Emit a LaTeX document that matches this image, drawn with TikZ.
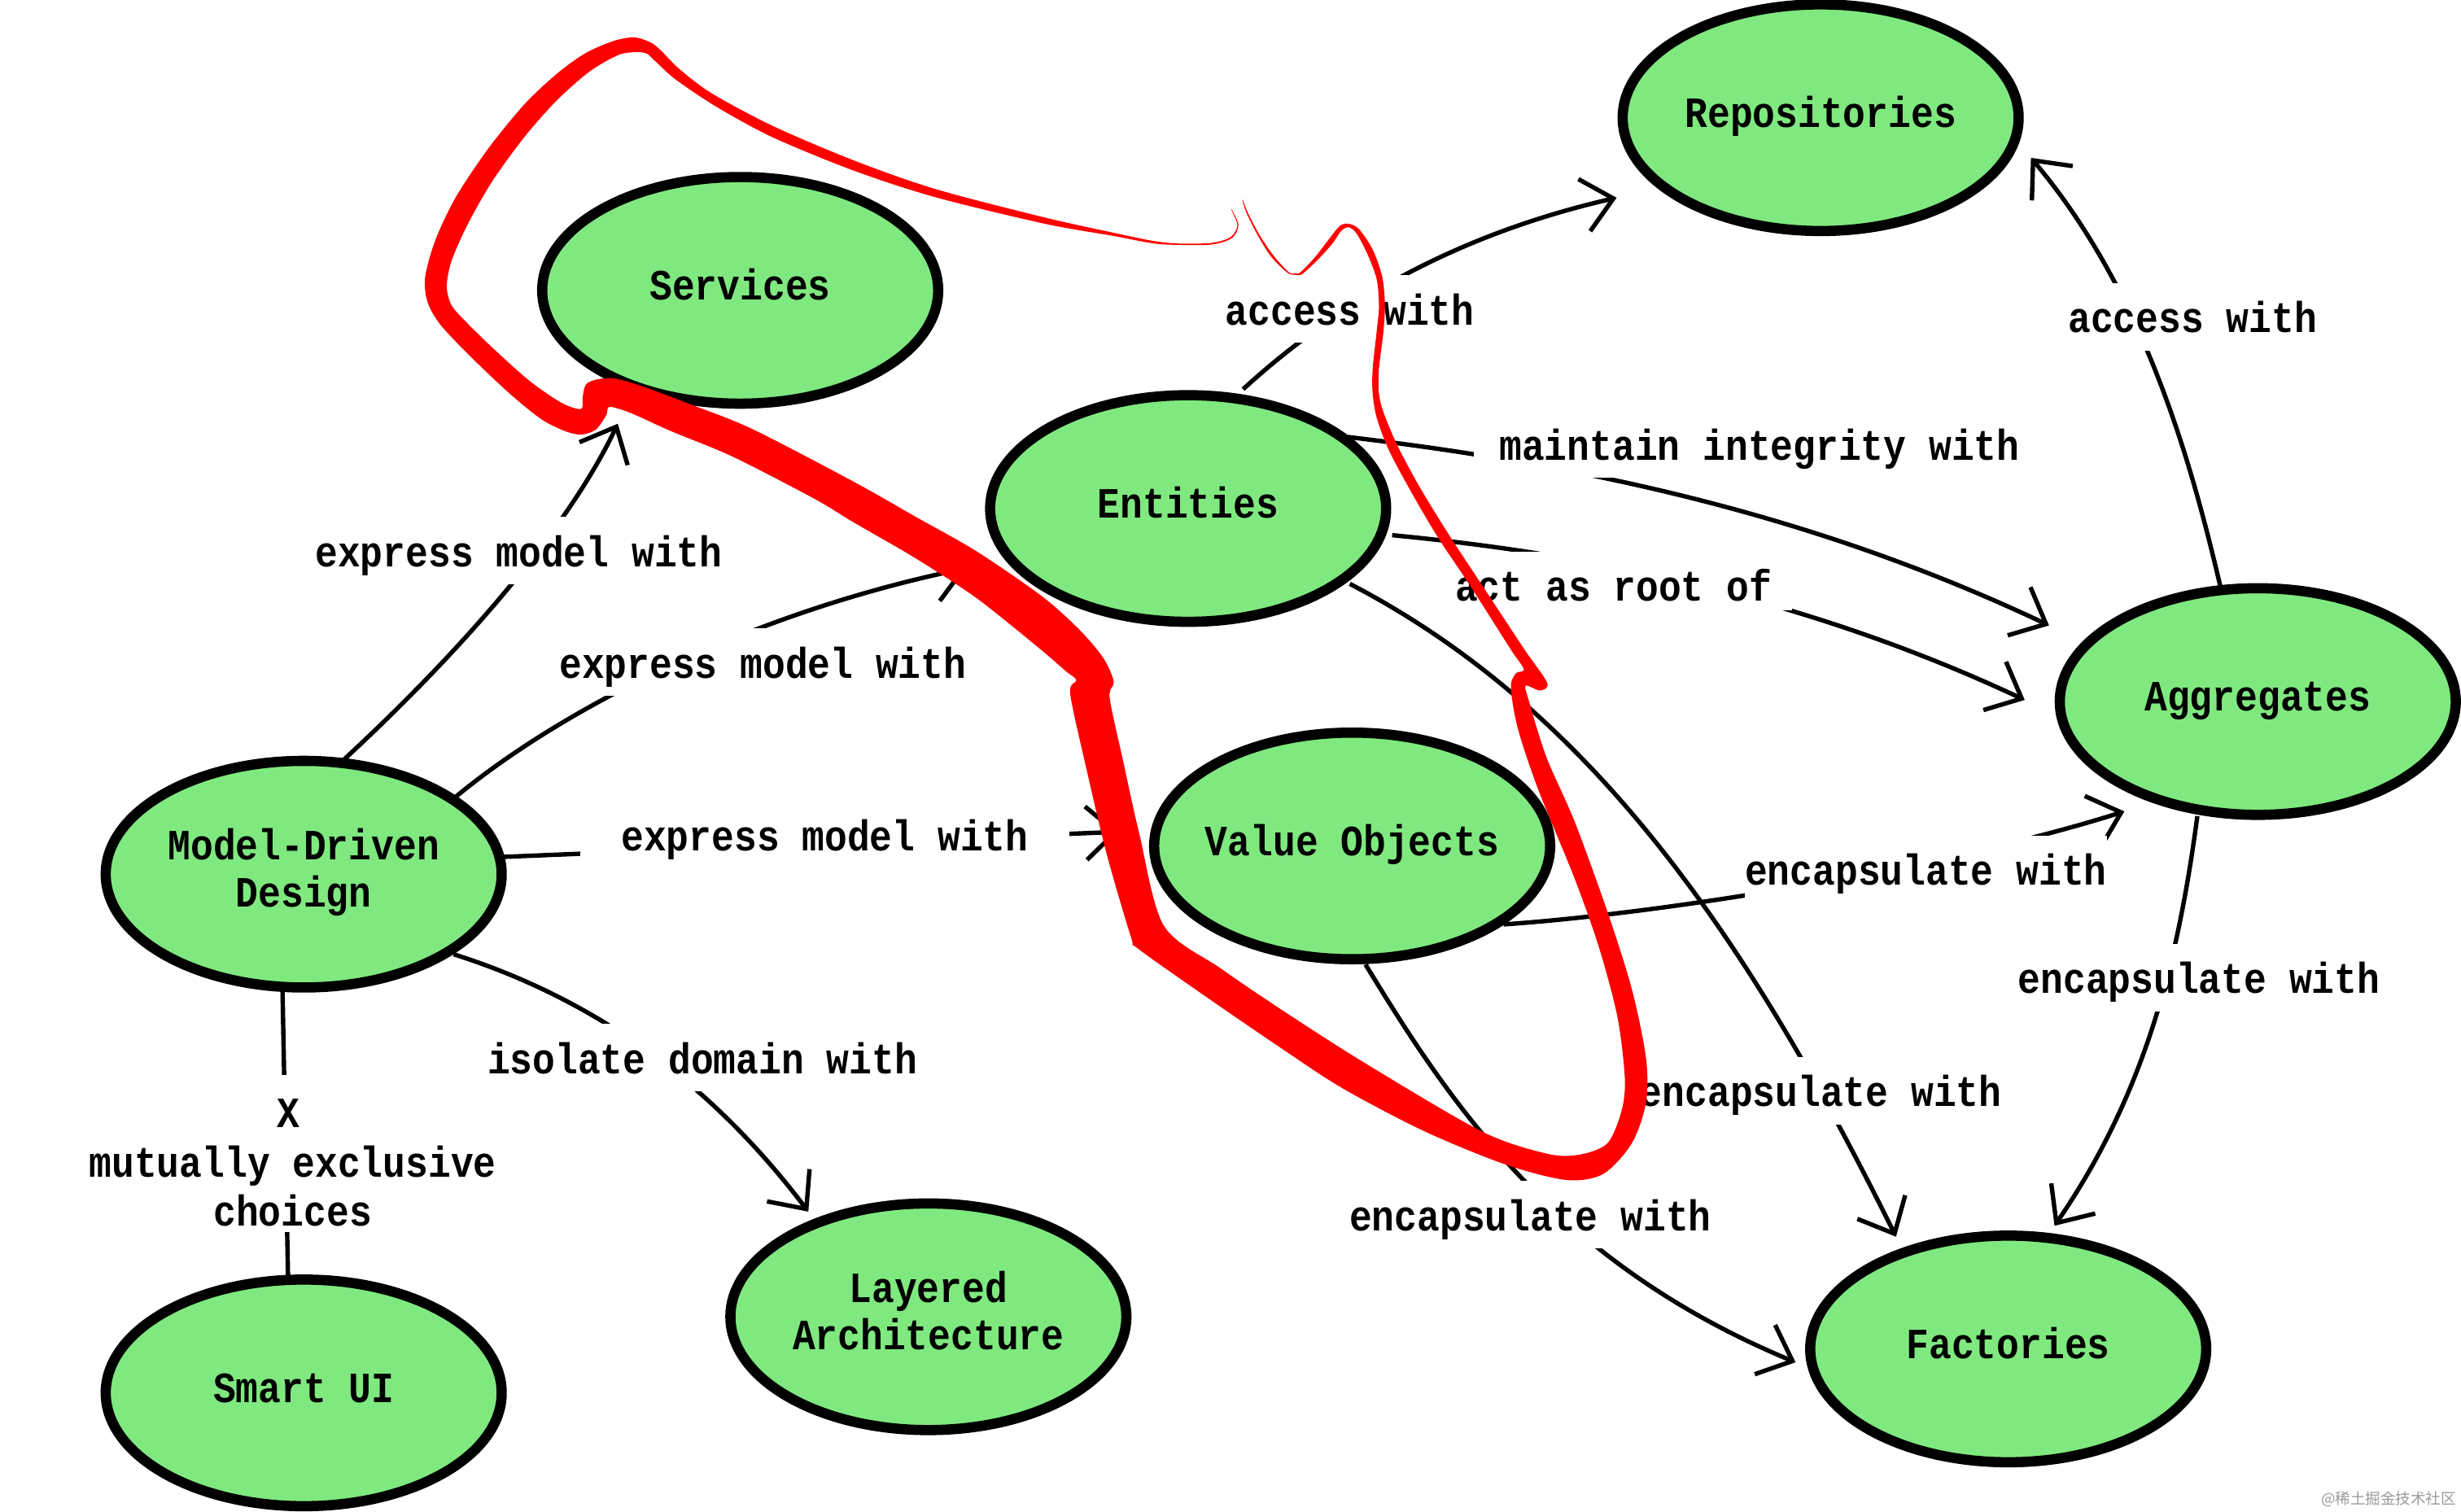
\documentclass[tikz,border=0pt]{standalone}
\usepackage{fontspec}
\usetikzlibrary{arrows.meta,shapes.geometric}
\setmonofont[FakeStretch=.873]{Liberation Mono}
\newfontfamily\cjkfont{Noto Sans CJK SC}
\definecolor{nodegreen}{HTML}{7FE97F}
\pgfdeclarelayer{connlayer}
\pgfdeclarelayer{redlayer}
\pgfsetlayers{connlayer,main,redlayer}
\newcommand{\lowstrut}{\rule[-8pt]{0pt}{8pt}}
\tikzset{
  x=1pt,y=-1pt,
  diagfont/.style={font=\ttfamily\bfseries\fontsize{27.5}{30}\selectfont},
  topic/.style={ellipse,draw=black,line width=6.5pt,fill=nodegreen,minimum width=252.3pt,minimum height=144.4pt,inner ysep=0pt,inner xsep=-10pt,diagfont,align=center},
  onetopic/.style={topic,text height=15pt,text depth=3pt},
  lab/.style={fill=white,inner ysep=0pt,inner xsep=#1,anchor=base,text height=31.5pt,text depth=11.5pt,diagfont},
  lab/.default=26pt,
  conn/.style={line width=2.8pt,draw=black},
  arr/.style={conn,-{Straight Barb[length=19pt,width=34pt]}},
  redstroke/.style={fill=red,draw=none}
}
\begin{document}
\begin{tikzpicture}
\useasboundingbox (0,0) rectangle (1568,963);
\begin{pgfonlayer}{connlayer}
\fill[white] (0,0) rectangle (1568,963);
\end{pgfonlayer}
% labels
\node[lab] (l1) at (330.5,361) {express model with};
\node[lab] (l2) at (486,432) {express model with};
\node[lab] (l3) at (525.5,542) {express model with};
\node[lab] (l4) at (447.5,684) {isolate domain with};
\node[fill=white,inner xsep=26pt,inner ysep=0pt,minimum height=100pt,align=center,diagfont] (l5) at (186.5,735) {\rule{0pt}{30pt}X\kern 6pt\\[1.5pt]mutually exclusive\\[1.5pt]choices};
\node[lab] (l6) at (860,207) {access with};
\node[lab=16.5pt] (l7) at (1121,293) {maintain integrity with};
\node[lab=13pt,text depth=6pt] (l8) at (1028,383) {act as root of};
\node[lab] (l9) at (1160,705) {encapsulate with};
\node[lab=0pt] (l10) at (1227,564) {encapsulate with};
\node[lab] (l11) at (975,784) {encapsulate with};
\node[lab] (l12) at (1397,212) {access with};
\node[lab] (l13) at (1401,633) {encapsulate with};
% topics
\node[onetopic] (rep) at (1160,75) {Repositories};
\node[onetopic] (svc) at (471.6,185) {Services};
\node[onetopic] (ent) at (757,324) {Entities};
\node[onetopic] (agg) at (1438.5,447) {Aggregates};
\node[onetopic] (val) at (861.5,539) {Value Objects};
\node[topic] (mdd) at (193.5,557) {Model-Driven\\Design\lowstrut};
\node[topic] (lay) at (591.5,839) {Layered\\Architecture\lowstrut};
\node[onetopic] (sui) at (193.5,887.5) {Smart UI};
\node[onetopic] (fac) at (1279.5,859.5) {Factories};
\node[font=\cjkfont\fontsize{9.6}{11}\selectfont,text=black!40,anchor=east,inner sep=0pt] (mark) at (1565,955) {@稀土掘金技术社区};
% connectors
\begin{pgfonlayer}{connlayer}
\draw[arr] ([shift={(24.5,-72)}]mdd.center) .. controls (280,428) and (358,345) .. ([shift={(-78,85)}]svc.center);
\draw[arr] ([shift={(96.5,-49)}]mdd.center) .. controls (360,450) and (480,390) .. ([shift={(-141,38)}]ent.center);
\draw[arr] ([shift={(126.5,-11)}]mdd.center) -- ([shift={(-148.5,-9)}]val.center);
\draw[arr] ([shift={(95.5,51)}]mdd.center) .. controls (374,635) and (449,685) .. ([shift={(-76.5,-67)}]lay.center);
\draw[conn] ([shift={(-13.5,74)}]mdd.center) -- ([shift={(-10,-74.5)}]sui.center);
\draw[arr] ([shift={(35,-76)}]ent.center) .. controls (850,195) and (925,150) .. ([shift={(-130,51)}]rep.center);
\draw[arr] ([shift={(98,-46)}]ent.center) .. controls (1000,295) and (1150,325) .. ([shift={(-133,-48.5)}]agg.center);
\draw[arr] ([shift={(130,17)}]ent.center) .. controls (980,350) and (1130,371) .. ([shift={(-148.5,-1)}]agg.center);
\draw[arr] ([shift={(103,48)}]ent.center) .. controls (1010,450) and (1110,590) .. ([shift={(-71.5,-71.5)}]fac.center);
\draw[arr] ([shift={(96.5,50)}]val.center) .. controls (1060,582) and (1240,553) .. ([shift={(-85,70)}]agg.center);
\draw[arr] ([shift={(8.5,75.5)}]val.center) .. controls (925,705) and (992,805) .. ([shift={(-135.5,8.5)}]fac.center);
\draw[arr] ([shift={(-24,-74)}]agg.center) .. controls (1395,290) and (1365,185) .. ([shift={(134,25.6)}]rep.center);
\draw[arr] ([shift={(-38.5,73)}]agg.center) .. controls (1388,610) and (1368,695) .. ([shift={(29.5,-78.5)}]fac.center);
\end{pgfonlayer}
% red freehand stroke
\begin{pgfonlayer}{redlayer}
\begin{scope}[shift={(259.26,10.37)},x=.25926pt,y=-.25926pt]
\fill[redstroke] plot[smooth cycle,tension=.5] coordinates {
(2026.7,476.7) (2040.7,513.3) (2025.3,542) (1980,556.7) (1900,558.7) (1833.3,552) (1733.3,531.3) (1568,494.7)
(1300,425) (1100,355) (900,270) (750,190) (670,130) (625,85) (600,65) (560,52) (510,60) (440,90) (370,140) (290,215) (200,325) (120,445) (70,550) (45,640) (50,700) (80,755) (150,830) (250,925) (330,990) (390,1020) (430,1028) (465,1015) (490,980) (498,960) (550,975) (650,1020) (800,1082) (1000,1185)
(1100,1245) (1250,1332) (1400,1430) (1550,1550) (1620,1610) (1645,1632) (1630,1665) (1670,1850) (1720,2060) (1780,2265) (1795,2290) (1950,2400)
(2150,2537) (2300,2635) (2500,2740) (2700,2822) (2850,2860) (2940,2845) (3010,2770) (3045,2670) (3045,2560) (3010,2390) (2950,2200) (2870,1980) (2800,1820) (2755,1675) (2750,1645) (2785,1657) (2802,1638)
(2745.3,1554.7) (2643.3,1400) (2560,1273.3) (2486.7,1153.3) (2433.3,1053.3) (2400,973.3) (2388.7,926.7) (2388.7,866.7) (2400,773.3) (2403.3,706.7) (2396.7,640) (2373.3,573.3) (2340,523.3) (2314.7,510) (2293.3,514.7) (2266.7,546.7) (2233.3,590) (2196.7,628.7) (2183.3,632) (2166.7,628.7) (2130,588.7) (2094.7,536.7) (2066.7,483.3) (2054.7,453.3)
(2053.3,453.3) (2063.3,483.3) (2090,536.7) (2123.3,590) (2163.3,630) (2183.3,635.3) (2200,633.3) (2236.7,600) (2273.3,560) (2296.7,526.7) (2314.7,518.7) (2333.3,533.3) (2360,583.3) (2383.3,646.7) (2388.7,713.3) (2383.3,773.3) (2373.3,866.7) (2373.3,926.7) (2383.3,986.7) (2413.3,1066.7) (2466.7,1166.7) (2533.3,1280) (2613.3,1400) (2712,1555)
(2745,1605) (2725,1615) (2713,1650) (2730,1750) (2780,1900) (2870,2120) (2930,2290) (2975,2460) (2993,2610) (2985,2690) (2950,2770) (2880,2798) (2800,2795) (2640,2740) (2350,2570) (2150,2442)
(2000,2340) (1860,2235) (1800,2010) (1760,1830) (1727,1675) (1737,1635) (1710,1575) (1650,1505) (1560,1425) (1400,1315) (1250,1230) (1100,1145)
(850,1015) (700,955) (580,910) (510,890) (465,893) (440,905) (432,935) (428,965) (380,950) (300,895) (200,805) (125,730) (105,700) (98,660) (110,600) (150,510) (210,405) (290,295) (370,205) (450,135) (520,95) (565,88) (590,92) (610,110) (660,155) (760,222) (900,298) (1100,380) (1300,445) (1568,510)
(1733.3,539.3) (1833.3,558) (1900,562) (1980,560.7) (2028,544.7) (2043.3,513.3) (2028,476.7)};
\end{scope}
\end{pgfonlayer}
\end{tikzpicture}
\end{document}
